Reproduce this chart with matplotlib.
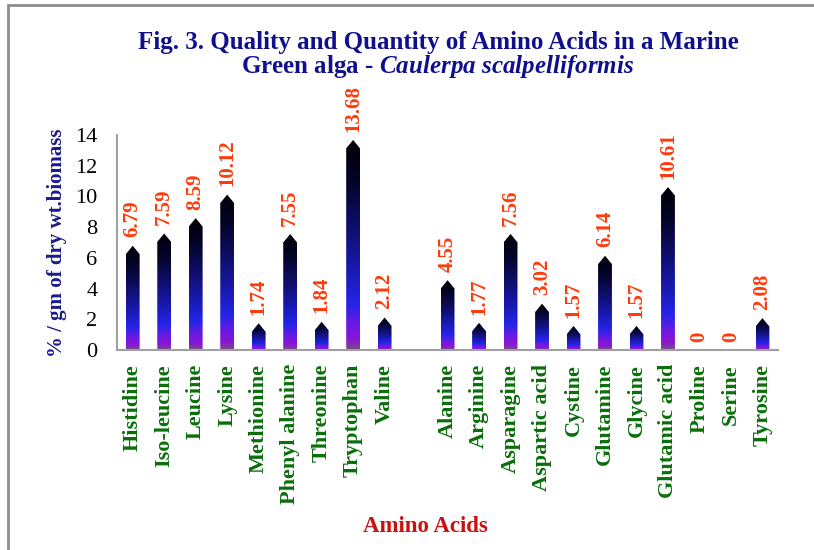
import matplotlib
matplotlib.use("Agg")
import matplotlib.pyplot as plt
import numpy as np
from matplotlib.colors import LinearSegmentedColormap
from matplotlib.patches import Polygon, Rectangle

amino_acids = ["Histidine", "Iso-leucine", "Leucine", "Lysine", "Methionine",
               "Phenyl alanine", "Threonine", "Tryptophan", "Valine", "",
               "Alanine", "Arginine", "Asparagine", "Aspartic acid", "Cystine",
               "Glutamine", "Glycine", "Glutamic acid", "Proline", "Serine",
               "Tyrosine"]
values = [6.79, 7.59, 8.59, 10.12, 1.74, 7.55, 1.84, 13.68, 2.12, None,
          4.55, 1.77, 7.56, 3.02, 1.57, 6.14, 1.57, 10.61, 0, 0, 2.08]
value_labels = ["6.79", "7.59", "8.59", "10.12", "1.74", "7.55", "1.84", "13.68", "2.12", "",
                "4.55", "1.77", "7.56", "3.02", "1.57", "6.14", "1.57", "10.61", "0", "0", "2.08"]

plt.rcParams["font.family"] = ["Liberation Serif", "DejaVu Serif"]
plt.rcParams["mathtext.fontset"] = "custom"
plt.rcParams["mathtext.rm"] = "Liberation Serif:bold"
plt.rcParams["mathtext.it"] = "Liberation Serif:italic:bold"

fig = plt.figure(figsize=(8.14, 5.5), dpi=100)
ax = fig.add_axes([0.1437, 0.3636, 0.8123, 0.3909])

# vertical gradient: black at the top, navy, blue, purple towards the base
cmap = LinearSegmentedColormap.from_list("bar", [
    (0.0, "#7a4a88"), (0.05, "#8a14d4"), (0.12, "#6a1ae2"), (0.22, "#2424e8"),
    (0.4, "#1818aa"), (0.6, "#0e0e66"), (0.8, "#04042a"), (1.0, "#000005")])
grad = np.linspace(0, 1, 1000).reshape(-1, 1)

w = 0.44
tip = 0.55
x = np.arange(len(amino_acids))
for xi, v in zip(x, values):
    if not v:
        continue
    t = min(tip, v * 0.4)
    verts = [(xi - w / 2, 0), (xi + w / 2, 0), (xi + w / 2, v - t),
             (xi, v), (xi - w / 2, v - t)]
    poly = Polygon(verts, closed=True, facecolor="none", edgecolor="none")
    ax.add_patch(poly)
    im = ax.imshow(grad, extent=[xi - w / 2, xi + w / 2, 0, v], origin="lower",
                   cmap=cmap, aspect="auto", interpolation="nearest", zorder=2)
    im.set_clip_path(poly)

for xi, v, lab in zip(x, values, value_labels):
    if v is None:
        continue
    ax.annotate(lab, (xi, v), xytext=(0, 6), textcoords="offset points",
                rotation=90, ha="center", va="bottom", color="#ff3a0a",
                fontsize=15, fontweight="bold")

ax.set_xlim(-0.5, len(amino_acids) - 0.5)
ax.set_ylim(0, 14)
ax.set_yticks(range(0, 15, 2))
ax.set_xticks(x)
ax.set_xticklabels(amino_acids, rotation=90, color="#0a6e0a",
                   fontsize=16, fontweight="bold")
ax.tick_params(axis="both", length=0)
ax.tick_params(axis="x", pad=10)
ax.tick_params(axis="y", labelsize=16, pad=14)
for s in ["top", "right"]:
    ax.spines[s].set_visible(False)
for s in ["left", "bottom"]:
    ax.spines[s].set_color("#a0a0a0")
    ax.spines[s].set_linewidth(1.5)

ax.set_ylabel("% / gm of dry wt.biomass", color="#1a1a8c", fontsize=15,
              fontweight="bold", labelpad=6)

fig.text(438 / 814, 1 - 42 / 550, "Fig. 3. Quality and Quantity of Amino Acids in a Marine",
         ha="center", va="center", color="#10108c", fontsize=18, fontweight="bold")
fig.text(438 / 814, 1 - 66 / 550, r"Green alga - $\it{Caulerpa\ scalpelliformis}$",
         ha="center", va="center", color="#10108c", fontsize=18, fontweight="bold")
fig.text(425 / 814, 1 - 527 / 550, "Amino Acids", ha="center", va="center",
         color="#cc1010", fontsize=16.5, fontweight="bold")

# outer frame of the figure
fig.patches.append(Rectangle((8 / 814, -0.05), 1.2, 1.05 - 5 / 550, transform=fig.transFigure,
                             fill=False, edgecolor="#8c8c8c", linewidth=2))

fig.savefig("out.png", dpi=100)
